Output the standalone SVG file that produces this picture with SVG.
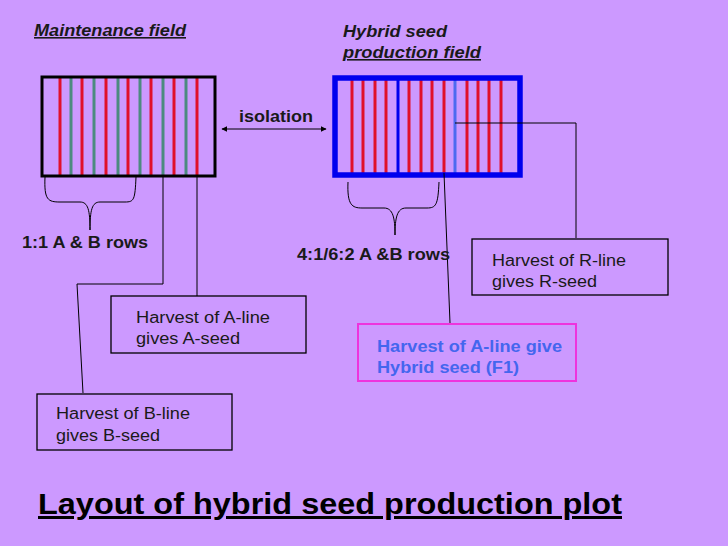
<svg xmlns="http://www.w3.org/2000/svg" width="728" height="546" viewBox="0 0 728 546">
<defs>
<style>
.t{font-family:"Liberation Sans",Arial,sans-serif;font-size:16px;fill:#1a1a1a}
.b{font-weight:bold}
.box{fill:none;stroke:#000;stroke-width:1.3}
.ln{fill:none;stroke:#000;stroke-width:1}
.r{stroke:#e0102a;stroke-width:3}
.g{stroke:#4d8a80;stroke-width:3}
.bl{fill:#4466ee}
</style>
<marker id="a" viewBox="0 0 10 10" refX="9" refY="5" markerWidth="6" markerHeight="6" orient="auto-start-reverse"><path d="M0,0L10,5L0,10z" fill="#000"/></marker>
</defs>
<rect width="728" height="546" fill="#cc99ff"/>
<text class="t b" x="34" y="36" font-style="italic" text-decoration="underline" textLength="152" lengthAdjust="spacingAndGlyphs">Maintenance field</text>
<text class="t b" x="343" y="37" font-style="italic" textLength="104" lengthAdjust="spacingAndGlyphs">Hybrid seed</text>
<text class="t b" x="343" y="58" font-style="italic" text-decoration="underline" textLength="138" lengthAdjust="spacingAndGlyphs">production field</text>
<g id="maint">
<g>
<line class="r" x1="60" y1="77" x2="60" y2="176"/><line class="g" x1="71" y1="77" x2="71" y2="176"/>
<line class="r" x1="82" y1="77" x2="82" y2="176"/><line class="g" x1="94" y1="77" x2="94" y2="176"/>
<line class="r" x1="106" y1="77" x2="106" y2="176"/><line class="g" x1="118" y1="77" x2="118" y2="176"/>
<line class="r" x1="128" y1="77" x2="128" y2="176"/><line class="g" x1="140" y1="77" x2="140" y2="176"/>
<line class="r" x1="151" y1="77" x2="151" y2="176"/><line class="g" x1="163" y1="77" x2="163" y2="176"/>
<line class="r" x1="174" y1="77" x2="174" y2="176"/><line class="g" x1="186" y1="77" x2="186" y2="176"/>
<line class="r" x1="197" y1="77" x2="197" y2="176"/>
</g>
<rect x="42" y="77" width="173" height="99" fill="none" stroke="#000" stroke-width="3"/>
</g>
<g id="hybrid">
<g>
<line class="r" x1="352" y1="78" x2="352" y2="174"/><line class="r" x1="363" y1="78" x2="363" y2="174"/>
<line class="r" x1="375" y1="78" x2="375" y2="174"/><line class="r" x1="386" y1="78" x2="386" y2="174"/>
<line class="r" x1="409" y1="78" x2="409" y2="174"/><line class="r" x1="421" y1="78" x2="421" y2="174"/>
<line class="r" x1="432" y1="78" x2="432" y2="174"/><line class="r" x1="444" y1="78" x2="444" y2="174"/>
<line x1="455" y1="78" x2="455" y2="174" stroke="#4d6af0" stroke-width="3"/>
<line class="r" x1="467" y1="78" x2="467" y2="174"/><line class="r" x1="478" y1="78" x2="478" y2="174"/>
<line class="r" x1="489" y1="78" x2="489" y2="174"/><line class="r" x1="501" y1="78" x2="501" y2="174"/>
<line x1="398" y1="78" x2="398" y2="174" stroke="#0000ee" stroke-width="3"/>
</g>
<rect x="335" y="78" width="185" height="97" fill="none" stroke="#0000ee" stroke-width="5.5"/>
</g>
<g id="connectors">
<line class="ln" x1="222" y1="129" x2="326" y2="129" marker-start="url(#a)" marker-end="url(#a)"/>
<path class="ln" d="M45,177 C44,200 48,202 60,202 L80,202 C88,202 90,210 90,230 C90,210 92,202 100,202 L125,202 C134,202 135,200 136,177"/>
<path class="ln" d="M348,182 C347,205 352,208 362,208 L384,208 C393,208 395,218 395,235 C395,218 397,208 406,208 L427,208 C436,208 438,205 439,182"/>
<path class="ln" d="M163,176 V284 H77 L83,393"/>
<path class="ln" d="M197,176 V296"/>
<path class="ln" d="M455,123 H576 V238"/>
<path class="ln" d="M444,173 L450,323"/>
</g>
<text class="t b" x="239" y="122" textLength="74" lengthAdjust="spacingAndGlyphs">isolation</text>
<text class="t b" x="22" y="248" textLength="126" lengthAdjust="spacingAndGlyphs">1:1 A &amp; B rows</text>
<text class="t b" x="297" y="260" textLength="153" lengthAdjust="spacingAndGlyphs">4:1/6:2 A &amp;B rows</text>
<g id="boxA"><rect class="box" x="111" y="296" width="195" height="57"/>
<text class="t" x="136" y="323" textLength="134" lengthAdjust="spacingAndGlyphs">Harvest of A-line</text><text class="t" x="136" y="344" textLength="104" lengthAdjust="spacingAndGlyphs">gives A-seed</text></g>
<g id="boxB"><rect class="box" x="37" y="394" width="195" height="56"/>
<text class="t" x="56" y="419" textLength="134" lengthAdjust="spacingAndGlyphs">Harvest of B-line</text><text class="t" x="56" y="441" textLength="104" lengthAdjust="spacingAndGlyphs">gives B-seed</text></g>
<g id="boxR"><rect class="box" x="472" y="239" width="196" height="56"/>
<text class="t" x="492" y="266" textLength="134" lengthAdjust="spacingAndGlyphs">Harvest of R-line</text><text class="t" x="492" y="287" textLength="105" lengthAdjust="spacingAndGlyphs">gives R-seed</text></g>
<g id="boxF1"><rect x="358" y="324" width="218" height="57" fill="none" stroke="#ee33dd" stroke-width="2"/>
<text class="t b bl" x="377" y="352" textLength="185" lengthAdjust="spacingAndGlyphs">Harvest of A-line give</text><text class="t b bl" x="377" y="373" textLength="142" lengthAdjust="spacingAndGlyphs">Hybrid seed (F1)</text></g>
<text x="38" y="514" font-family="Liberation Sans,Arial,sans-serif" font-size="30" font-weight="bold" fill="#000" text-decoration="underline" textLength="584" lengthAdjust="spacingAndGlyphs">Layout of hybrid seed production plot</text>
</svg>
